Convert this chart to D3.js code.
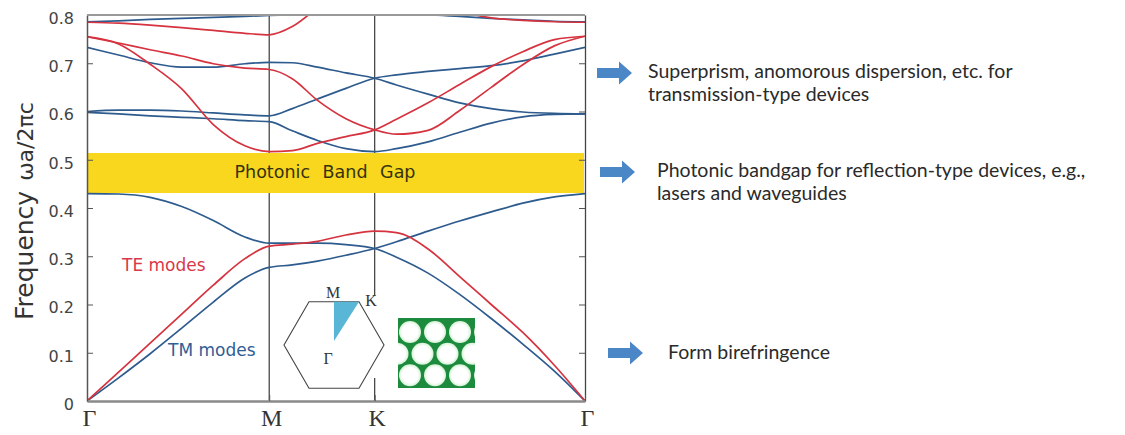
<!DOCTYPE html>
<html>
<head>
<meta charset="utf-8">
<script src="https://cdn.jsdelivr.net/npm/d3@7"></script>
<style>
body { margin: 0; background: #fff; }
svg { display: block; }
</style>
</head>
<body>
<svg id="chart" width="1125" height="435"></svg>
<script>
// wave vector along the path Γ -> M -> K -> Γ (units of 2π/a)
var kPoints = [0, 0.1, 0.2, 0.3, 0.4, 0.5, 0.577, 0.65, 0.73, 0.82, 0.911, 0.98, 1.08, 1.18, 1.28, 1.38, 1.48, 1.577];
var kTicks = [0, 0.577, 0.911, 1.577];
var kLabels = ["Γ", "M", "K", "Γ"];
var yTicks = [0, 0.1, 0.2, 0.3, 0.4, 0.5, 0.6, 0.7, 0.8];
var yTickLabels = ["0", "0.1", "0.2", "0.3", "0.4", "0.5", "0.6", "0.7", "0.8"];
var gapRange = [0.431, 0.514];

// TM bands (blue)
var tmBand1 = [0, 0.048, 0.098, 0.151, 0.205, 0.255, 0.277, 0.282, 0.29, 0.302, 0.316, 0.33, 0.352, 0.373, 0.392, 0.41, 0.423, 0.43];
var tmBand2 = [0.43, 0.429, 0.422, 0.403, 0.374, 0.34, 0.327, 0.327, 0.327, 0.324, 0.316, 0.298, 0.265, 0.221, 0.171, 0.118, 0.062, 0];
var tmBand3 = [0.598, 0.595, 0.591, 0.588, 0.585, 0.581, 0.579, 0.56, 0.54, 0.523, 0.517, 0.523, 0.537, 0.557, 0.576, 0.589, 0.594, 0.595];
var tmBand4 = [0.6, 0.603, 0.603, 0.601, 0.597, 0.593, 0.591, 0.606, 0.626, 0.648, 0.669, 0.676, 0.683, 0.689, 0.695, 0.705, 0.719, 0.733];
var tmBand5 = [0.733, 0.717, 0.701, 0.692, 0.692, 0.699, 0.702, 0.701, 0.692, 0.68, 0.669, 0.655, 0.636, 0.618, 0.606, 0.599, 0.596, 0.595];
var tmBand6 = [0.786, 0.788, 0.791, 0.793, 0.795, 0.797, 0.799, 0.801, 0.803, 0.806, 0.81, 0.808, 0.801, 0.797, 0.793, 0.79, 0.787, 0.786];

// TE bands (red)
var teBand1 = [0, 0.06, 0.12, 0.18, 0.24, 0.295, 0.321, 0.325, 0.331, 0.344, 0.352, 0.349, 0.315, 0.258, 0.2, 0.142, 0.074, 0];
var teBand2 = [0.755, 0.74, 0.698, 0.647, 0.573, 0.529, 0.517, 0.519, 0.534, 0.548, 0.562, 0.584, 0.618, 0.656, 0.693, 0.724, 0.749, 0.756];
var teBand3 = [0.755, 0.742, 0.728, 0.715, 0.699, 0.69, 0.687, 0.668, 0.623, 0.585, 0.562, 0.553, 0.561, 0.602, 0.65, 0.697, 0.736, 0.756];
var teBand4 = [0.785, 0.783, 0.779, 0.774, 0.768, 0.762, 0.759, 0.776, 0.815, 0.86, 0.9, 0.88, 0.85, 0.81, 0.794, 0.789, 0.786, 0.785];

var tmBands = [tmBand1, tmBand2, tmBand3, tmBand4, tmBand5, tmBand6];
var teBands = [teBand1, teBand2, teBand3, teBand4];

var notes = [
  {y: 73, lines: ["Superprism, anomorous dispersion, etc. for", "transmission-type devices"], tx: 648, ax: 597, base: 78},
  {y: 172, lines: ["Photonic bandgap for reflection-type devices, e.g.,", "lasers and waveguides"], tx: 657, ax: 600, base: 177},
  {y: 353, lines: ["Form birefringence"], tx: 668, ax: 608, base: 359}
];

var blue = "#2e5b8e", red = "#d5333f";

var svg = d3.select("#chart");
var x = d3.scaleLinear().domain([0, 1.577]).range([87, 585]);
var y = d3.scaleLinear().domain([0, 0.8]).range([401, 15]);

var defs = svg.append("defs");
defs.append("clipPath").attr("id", "plotClip")
  .append("rect").attr("x", 87).attr("y", 15).attr("width", 498).attr("height", 386);
var grad = defs.append("radialGradient").attr("id", "hole");
grad.append("stop").attr("offset", "70%").attr("stop-color", "#ffffff");
grad.append("stop").attr("offset", "100%").attr("stop-color", "#d2f2d4");
defs.append("clipPath").attr("id", "latticeClip")
  .append("rect").attr("x", 398).attr("y", 318).attr("width", 77).attr("height", 70);

// symmetry point lines
svg.selectAll(".sym").data(kTicks.slice(1, 3)).enter().append("line")
  .attr("x1", d => x(d)).attr("x2", d => x(d))
  .attr("y1", y(0)).attr("y2", y(0.8))
  .attr("stroke", "#3a3a3a").attr("stroke-width", 1.2);

// band gap
svg.append("rect")
  .attr("x", x(0) + 1).attr("width", x(1.577) - x(0) - 2)
  .attr("y", y(gapRange[1])).attr("height", y(gapRange[0]) - y(gapRange[1]))
  .attr("fill", "#f8d71e");
svg.append("text")
  .attr("x", 325).attr("y", 178)
  .attr("text-anchor", "middle")
  .style("font-family", "DejaVu Sans").style("font-size", "17.5px")
  .style("word-spacing", "7px").attr("fill", "#35320f")
  .text("Photonic Band Gap");

// bands
var line = d3.line()
  .x((d, i) => x(kPoints[i]))
  .y(d => y(d))
  .curve(d3.curveMonotoneX);

var bandG = svg.append("g").attr("clip-path", "url(#plotClip)");
bandG.selectAll(".tm").data(tmBands).enter().append("path")
  .attr("d", line).attr("fill", "none")
  .attr("stroke", blue).attr("stroke-width", 1.7);
bandG.selectAll(".te").data(teBands).enter().append("path")
  .attr("d", line).attr("fill", "none")
  .attr("stroke", red).attr("stroke-width", 1.7);

// axes
var yAxis = svg.append("g").attr("transform", "translate(" + x(0) + ",0)")
  .call(d3.axisLeft(y).tickValues(yTicks).tickSize(-6).tickSizeOuter(0).tickPadding(13)
    .tickFormat((d, i) => yTickLabels[i]));
yAxis.selectAll("text").attr("dy", "0.52em")
  .style("font-family", "DejaVu Sans").style("font-size", "16px").attr("fill", "#444");
yAxis.selectAll("line").attr("stroke", "#555");
yAxis.select(".domain").attr("stroke", "#555").attr("stroke-width", 1.5);

var yAxisR = svg.append("g").attr("transform", "translate(" + x(1.577) + ",0)")
  .call(d3.axisRight(y).tickValues(yTicks).tickSize(-6).tickSizeOuter(0).tickFormat(""));
yAxisR.selectAll("line").attr("stroke", "#555");
yAxisR.select(".domain").attr("stroke", "#444").attr("stroke-width", 1.3);

svg.append("line").attr("x1", x(0)).attr("x2", x(1.577)).attr("y1", y(0.8)).attr("y2", y(0.8))
  .attr("stroke", "#999").attr("stroke-width", 2);

var xAxis = svg.append("g").attr("transform", "translate(0," + y(0) + ")")
  .call(d3.axisBottom(x).tickValues(kTicks).tickSize(-6).tickSizeOuter(0).tickPadding(3)
    .tickFormat((d, i) => kLabels[i]));
xAxis.selectAll("text").attr("dy", "0.93em").attr("dx", "2px")
  .style("font-family", "Liberation Serif").style("font-size", "24px").attr("fill", "#333");
xAxis.selectAll("line").attr("stroke", "#555");
xAxis.select(".domain").attr("stroke", "#8a8a8a").attr("stroke-width", 2.5);

// y title
svg.append("text")
  .attr("transform", "translate(33,320) rotate(-90)")
  .style("font-family", "DejaVu Sans").attr("fill", "#333")
  .call(t => {
    t.append("tspan").style("font-size", "25px").text("Frequency");
    t.append("tspan").style("font-size", "22px").attr("dx", 10).text("ωa/2πc");
  });

// mode labels
svg.append("text").attr("x", 122).attr("y", 271)
  .style("font-family", "DejaVu Sans").style("font-size", "17px").attr("fill", "#d8394a")
  .text("TE modes");
svg.append("text").attr("x", 168).attr("y", 356)
  .style("font-family", "DejaVu Sans").style("font-size", "17px").attr("fill", "#2f5e95")
  .text("TM modes");

// inset: Brillouin zone
var inset = svg.append("g");
inset.append("rect").attr("x", 278).attr("y", 296).attr("width", 112).attr("height", 82).attr("fill", "#fff");
var cx = 334, cy = 345, R = 50;
var hex = d3.range(6).map(i => [cx + R * Math.cos(i * Math.PI / 3), cy + R * Math.sin(i * Math.PI / 3)]);
inset.append("polygon").attr("points", hex.map(p => p.join(",")).join(" "))
  .attr("fill", "none").attr("stroke", "#444").attr("stroke-width", 1.1);
inset.append("polygon")
  .attr("points", [[cx, cy - 4], [cx, cy - R * Math.sqrt(3) / 2], [cx + R / 2, cy - R * Math.sqrt(3) / 2]].map(p => p.join(",")).join(" "))
  .attr("fill", "#5ab6d6");
[["M", 333, 298], ["K", 371, 306], ["Γ", 328, 364]].forEach(function(l) {
  inset.append("text").attr("x", l[1]).attr("y", l[2]).attr("text-anchor", "middle")
    .style("font-family", "Liberation Serif").style("font-size", "16px").attr("fill", "#333").text(l[0]);
});

// inset: lattice of air holes
var lat = svg.append("g");
lat.append("rect").attr("x", 398).attr("y", 318).attr("width", 77).attr("height", 70).attr("fill", "#1d8b3d");
var holes = [];
[332, 353.7, 375.3].forEach(function(ry, r) {
  var x0 = r === 1 ? 397.5 : 410;
  for (var c = 0; c < 4; c++) holes.push([x0 + c * 25, ry]);
});
lat.append("g").attr("clip-path", "url(#latticeClip)")
  .selectAll("circle").data(holes).enter().append("circle")
  .attr("cx", d => d[0]).attr("cy", d => d[1]).attr("r", 11)
  .attr("fill", "url(#hole)");

// annotations
notes.forEach(function(n) {
  var ax = n.ax, ay = n.y;
  svg.append("path")
    .attr("d", "M" + ax + "," + (ay - 5) + "H" + (ax + 22) + "V" + (ay - 11.5) + "L" + (ax + 35) + "," + ay +
      "L" + (ax + 22) + "," + (ay + 11.5) + "V" + (ay + 5) + "H" + ax + "Z")
    .attr("fill", "#4b86c7");
  var t = svg.append("text").attr("x", n.tx).attr("y", n.base)
    .style("font-family", "Lato").style("font-size", "19.5px").attr("fill", "#2a2a2a");
  n.lines.forEach(function(s, i) {
    t.append("tspan").attr("x", n.tx).attr("dy", i === 0 ? 0 : 23).text(s);
  });
});
</script>
</body>
</html>
